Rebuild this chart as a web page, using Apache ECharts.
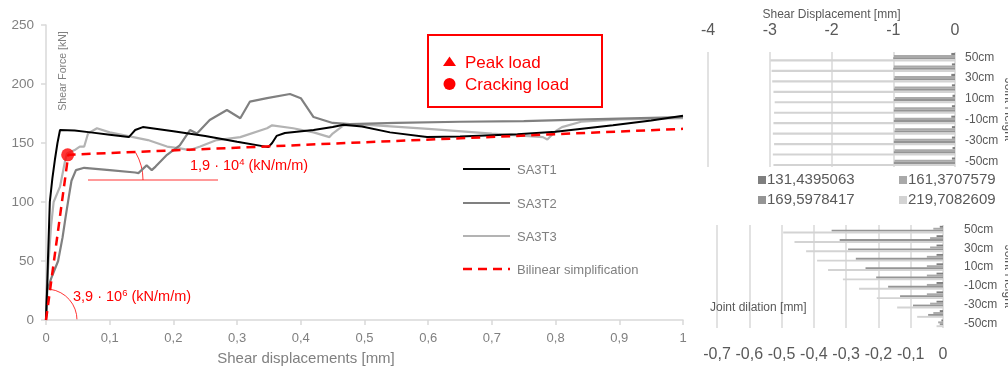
<!DOCTYPE html>
<html>
<head>
<meta charset="utf-8">
<script src="https://cdn.jsdelivr.net/npm/echarts@6/dist/echarts.min.js"></script>
<style>
  html, body { margin: 0; padding: 0; background: #ffffff; }
  #c { width: 1008px; height: 372px; }
</style>
</head>
<body>
<div id="c"></div>
<script>
// ---- shear force vs. shear displacement curves [mm, kN] ----
const sa3t1 = [[0,0],[0.002,30],[0.003,50],[0.006,100],[0.010,120],[0.014,136],[0.018,150],[0.022,161],
  [0.045,160.5],[0.070,159],[0.100,157],[0.130,155],[0.135,158],[0.140,161],[0.152,163.5],[0.200,160],
  [0.250,156],[0.300,151],[0.349,146.5],[0.355,150],[0.362,156],[0.375,158.5],[0.420,161],[0.450,163.5],
  [0.467,165.5],[0.496,164],[0.540,159],[0.598,155],[0.650,155.5],[0.740,157.5],[0.800,159.5],[0.890,165],
  [0.950,169],[1.000,173]];
const sa3t2 = [[0,0],[0.002,25],[0.008,35],[0.019,50],[0.026,70],[0.031,88],[0.036,105],[0.040,118],
  [0.047,127],[0.060,129],[0.100,127],[0.140,125],[0.145,124.5],[0.158,131],[0.166,127],[0.172,130],
  [0.190,140],[0.210,148],[0.226,161],[0.237,158],[0.257,169.5],[0.284,178],[0.305,171],[0.320,185],
  [0.347,188],[0.383,191.5],[0.400,188],[0.420,172],[0.450,167],[0.477,166],[0.550,167],[0.650,168],
  [0.750,168.5],[0.850,170],[1.000,172]];
const sa3t3 = [[0,0],[0.001,25],[0.004,50],[0.008,80],[0.012,100],[0.022,113],[0.030,135],[0.033,141],
  [0.045,144],[0.053,147],[0.060,147],[0.066,158],[0.080,162.5],[0.100,159],[0.137,155],[0.160,152.5],
  [0.190,147],[0.210,145.5],[0.226,144],[0.242,147],[0.268,152.5],[0.305,155],[0.347,162.5],[0.355,165],
  [0.388,162.5],[0.420,159],[0.445,155],[0.450,158],[0.467,165],[0.500,165.5],[0.600,162],[0.700,158],
  [0.780,155],[0.787,153],[0.800,160],[0.810,163.5],[0.840,168],[0.900,170],[1.000,171]];
const bilinear = [[0,0],[0.035,140],[1,162]];
const crackingLoad = [[0.034,140]];

// ---- joint profiles per load step ----
const heights = ['50cm','40cm','30cm','20cm','10cm','0cm','-10cm','-20cm','-30cm','-40cm','-50cm'];
const loadSteps = ['131,4395063','161,3707579','169,5978417','219,7082609'];
// shear displacement [mm]
const sd131 = [-0.06,-0.05,-0.06,-0.05,-0.04,-0.05,-0.06,-0.05,-0.05,-0.04,-0.05];
const sd161 = [-0.99,-0.99,-0.98,-0.98,-0.97,-0.98,-0.98,-0.97,-0.98,-0.98,-0.98];
const sd169 = [-1.00,-1.00,-0.99,-0.99,-0.99,-0.99,-0.99,-0.98,-0.99,-0.99,-0.99];
const sd219 = [-2.99,-2.97,-2.96,-2.94,-2.92,-2.93,-2.94,-2.95,-2.93,-2.95,-2.94];
// joint dilation [mm]
const jd131 = [-0.01,-0.02,-0.02,-0.02,-0.02,-0.02,-0.02,-0.02,-0.02,-0.01,-0.005];
const jd161 = [-0.03,-0.04,-0.04,-0.05,-0.05,-0.05,-0.05,-0.05,-0.04,-0.03,-0.015];
const jd169 = [-0.345,-0.32,-0.294,-0.27,-0.24,-0.207,-0.17,-0.133,-0.093,-0.046,-0.01];
const jd219 = [-0.495,-0.46,-0.424,-0.39,-0.356,-0.31,-0.26,-0.205,-0.142,-0.08,-0.02];

const FONT = "'Liberation Sans',Arial,sans-serif";
const RED = '#ff0000';
const AXIS_GRAY = '#d9d9d9';
const TXT = '#808080';
const TXT2 = '#595959';
const barColors = ['#7f7f7f', '#a9a9a9', '#959595', '#d3d3d3'];
const comma = (v, d) => v.toFixed(d).replace('.', ',');

const chart = echarts.init(document.getElementById('c'), null, { renderer: 'canvas' });

function barSeries(values, i, axis) {
  return {
    type: 'bar', name: loadSteps[i], xAxisIndex: axis, yAxisIndex: axis,
    data: values, barGap: '0%', barCategoryGap: '18%',
    itemStyle: { color: barColors[i] }, silent: true
  };
}

const option = {
  animation: false,
  textStyle: { fontFamily: FONT },
  grid: [
    { left: 46, right: 325, top: 25, bottom: 52, outerBoundsMode: 'none', containLabel: false },
    { left: 708, right: 53, top: 52, height: 115, outerBoundsMode: 'none', containLabel: false },
    { left: 717, right: 65, top: 225, height: 103, outerBoundsMode: 'none', containLabel: false }
  ],
  xAxis: [
    { gridIndex: 0, type: 'value', min: 0, max: 1, interval: 0.1,
      axisLine: { show: true, lineStyle: { color: AXIS_GRAY, width: 1.5 } },
      axisTick: { show: true, length: 5, lineStyle: { color: AXIS_GRAY, width: 1.5 } },
      splitLine: { show: false },
      axisLabel: { color: TXT, fontSize: 13, margin: 12, fontFamily: FONT,
        formatter: v => (v === 0 || v === 1) ? String(v) : comma(v, 1) } },
    { gridIndex: 1, type: 'value', min: -4, max: 0, interval: 1, position: 'top',
      name: 'Shear Displacement [mm]', nameLocation: 'middle', nameGap: 31,
      nameTextStyle: { color: TXT2, fontSize: 12, fontFamily: FONT },
      axisLine: { show: false }, axisTick: { show: false },
      splitLine: { show: true, lineStyle: { color: AXIS_GRAY, width: 1.5 } },
      axisLabel: { color: TXT2, fontSize: 16, margin: 13, fontFamily: FONT,
        formatter: v => String(v) } },
    { gridIndex: 2, type: 'value', min: -0.7, max: 0, interval: 0.1,
      axisLine: { show: false }, axisTick: { show: false },
      splitLine: { show: true, lineStyle: { color: AXIS_GRAY, width: 1.5 } },
      axisLabel: { color: TXT2, fontSize: 16, margin: 19, fontFamily: FONT, hideOverlap: false,
        formatter: v => Math.abs(v) < 1e-9 ? '0' : comma(v, 1) } }
  ],
  yAxis: [
    { gridIndex: 0, type: 'value', min: 0, max: 250, interval: 50,
      axisLine: { show: true, lineStyle: { color: AXIS_GRAY, width: 1.5 } },
      axisTick: { show: true, length: 5, lineStyle: { color: AXIS_GRAY, width: 1.5 } },
      splitLine: { show: false },
      axisLabel: { color: TXT, fontSize: 13.5, margin: 12, fontFamily: FONT } },
    { gridIndex: 1, type: 'category', data: heights, inverse: true, position: 'right',
      name: 'Joint Height', nameLocation: 'middle', nameRotate: -90, nameGap: 47,
      nameTextStyle: { color: TXT2, fontSize: 12, fontFamily: FONT },
      axisLine: { show: false }, axisTick: { show: false },
      axisLabel: { interval: 1, color: TXT2, fontSize: 12, margin: 10, fontFamily: FONT } },
    { gridIndex: 2, type: 'category', data: heights, inverse: true, position: 'right',
      name: 'Joint Height', nameLocation: 'middle', nameRotate: -90, nameGap: 59,
      nameTextStyle: { color: TXT2, fontSize: 12, fontFamily: FONT },
      axisLine: { show: false }, axisTick: { show: false },
      axisLabel: { interval: 1, color: TXT2, fontSize: 12, margin: 21, fontFamily: FONT } }
  ],
  series: [
    { type: 'line', name: 'SA3T3', data: sa3t3, showSymbol: false, silent: true,
      lineStyle: { color: '#b3b3b3', width: 2.2 } },
    { type: 'line', name: 'SA3T2', data: sa3t2, showSymbol: false, silent: true,
      lineStyle: { color: '#808080', width: 2.2 } },
    { type: 'line', name: 'SA3T1', data: sa3t1, showSymbol: false, silent: true,
      lineStyle: { color: '#000000', width: 2 } },
    { type: 'line', name: 'Bilinear simplification', data: bilinear, showSymbol: false, silent: true,
      lineStyle: { color: RED, width: 2.5, type: [9, 6] }, z: 5 },
    { type: 'scatter', name: 'Cracking load', data: crackingLoad, symbol: 'circle', symbolSize: 13,
      itemStyle: { color: RED }, silent: true, z: 6 },
    barSeries(sd131, 0, 1), barSeries(sd161, 1, 1), barSeries(sd169, 2, 1), barSeries(sd219, 3, 1),
    barSeries(jd131, 0, 2), barSeries(jd161, 1, 2), barSeries(jd169, 2, 2), barSeries(jd219, 3, 2)
  ]
};
chart.setOption(option);

// ---- annotations, legends and free-standing titles ----
const origin = chart.convertToPixel({ gridIndex: 0 }, [0, 0]);
const deg = Math.PI / 180;
const txt = (x, y, text, size, color, extra) => Object.assign({
  type: 'text', x: x, y: y, silent: true,
  style: { text: text, fill: color, fontSize: size, fontFamily: FONT,
           textAlign: 'left', textVerticalAlign: 'middle' }
}, extra || {});

const graphics = [];
// marker key box
graphics.push({ type: 'rect', shape: { x: 428, y: 35, width: 174, height: 72 }, silent: true,
  style: { fill: 'none', stroke: RED, lineWidth: 2 } });
graphics.push({ type: 'polygon', shape: { points: [[443, 66], [456, 66], [449.5, 56.5]] }, silent: true,
  style: { fill: RED } });
graphics.push({ type: 'circle', shape: { cx: 449.5, cy: 84, r: 6 }, silent: true, style: { fill: RED } });
graphics.push(txt(465, 63, 'Peak load', 17, RED));
graphics.push(txt(465, 85, 'Cracking load', 17, RED));

// series key
const keyRows = [
  { y: 169, color: '#000000', dash: null, label: 'SA3T1' },
  { y: 203, color: '#808080', dash: null, label: 'SA3T2' },
  { y: 236, color: '#b3b3b3', dash: null, label: 'SA3T3' },
  { y: 269, color: RED, dash: [9, 6], label: 'Bilinear simplification' }
];
keyRows.forEach(r => {
  graphics.push({ type: 'line', shape: { x1: 463, y1: r.y, x2: 510, y2: r.y }, silent: true,
    style: { stroke: r.color, lineWidth: r.dash ? 2.5 : 2.2, lineDash: r.dash || null } });
  graphics.push(txt(517, r.y + 1, r.label, 13, TXT));
});

// stiffness annotations
const richLabel = (x, y, base, exp) => ({ type: 'text', x: x, y: y, silent: true,
  style: { text: '{b|' + base + '}{s|' + exp + '}{b| (kN/m/m)}', fontFamily: FONT, textVerticalAlign: 'middle',
    rich: { b: { fontSize: 14.5, fill: RED, fontFamily: FONT },
            s: { fontSize: 9.5, fill: RED, fontFamily: FONT, verticalAlign: 'top', padding: [0, 0, 7, 0] } } } });
graphics.push(richLabel(190, 166, '1,9 · 10', '4'));
graphics.push({ type: 'line', shape: { x1: 88, y1: 180, x2: 218, y2: 180 }, silent: true,
  style: { stroke: RED, lineWidth: 0.8 } });
graphics.push({ type: 'arc', shape: { cx: 88, cy: 180, r: 55, startAngle: -30 * deg, endAngle: 0, clockwise: true },
  silent: true, style: { stroke: RED, lineWidth: 0.8, fill: 'none' } });
graphics.push(richLabel(73, 297, '3,9 · 10', '6'));
graphics.push({ type: 'arc', shape: { cx: origin[0], cy: origin[1], r: 31, startAngle: -82 * deg, endAngle: 0, clockwise: true },
  silent: true, style: { stroke: RED, lineWidth: 0.8, fill: 'none' } });

// axis titles of the main diagram
graphics.push({ type: 'text', x: 63, y: 71, rotation: Math.PI / 2, silent: true,
  style: { text: 'Shear Force [kN]', fill: TXT, fontSize: 10.5, fontFamily: FONT,
           textAlign: 'center', textVerticalAlign: 'middle' } });
graphics.push({ type: 'text', x: 306, y: 359, silent: true,
  style: { text: 'Shear displacements [mm]', fill: TXT, fontSize: 15, fontFamily: FONT,
           textAlign: 'center', textVerticalAlign: 'middle' } });

// load step key of the joint profiles
const keyPos = [[758, 180], [899, 180], [758, 200], [899, 200]];
loadSteps.forEach((s, i) => {
  const p = keyPos[i];
  graphics.push({ type: 'rect', shape: { x: p[0], y: p[1] - 4, width: 8, height: 8 }, silent: true,
    style: { fill: barColors[i] } });
  graphics.push(txt(p[0] + 9, p[1], s, 15, TXT2));
});
graphics.push(txt(710, 308, 'Joint dilation [mm]', 12, TXT2));

chart.setOption({ graphic: graphics });
</script>
</body>
</html>
